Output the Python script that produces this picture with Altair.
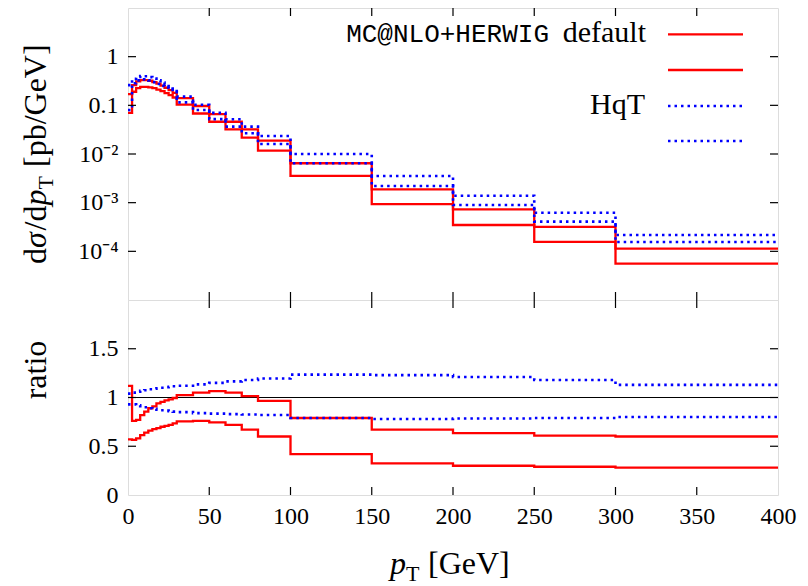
import altair as alt
import pandas as pd

# ---------------- data ----------------
pt_edges = [0, 2.5, 5, 7.5, 10, 12.5, 15, 17.5, 20, 22.5, 25, 27.5,
            30, 40, 50, 60, 70, 80, 100, 150, 200, 250, 300, 400]

mc_upper = [0.17, 0.26, 0.31, 0.33, 0.33, 0.32, 0.30, 0.28, 0.255, 0.23, 0.205, 0.18,
            0.14, 0.097, 0.066, 0.046, 0.0322, 0.0188, 0.00645, 1.88e-3, 7.3e-4, 3.17e-4, 1.14e-4]
mc_lower = [0.07, 0.19, 0.225, 0.24, 0.24, 0.235, 0.225, 0.21, 0.195, 0.178, 0.162, 0.145,
            0.103, 0.068, 0.046, 0.032, 0.0217, 0.0117, 0.00354, 9.3e-4, 3.48e-4, 1.56e-4, 5.6e-5]
hqt_upper = [0.26, 0.35, 0.385, 0.40, 0.395, 0.38, 0.355, 0.325, 0.295, 0.27, 0.245, 0.222,
             0.151, 0.103, 0.07, 0.0517, 0.0365, 0.0235, 0.0100, 3.54e-3, 1.39e-3, 6.2e-4, 2.17e-4]
hqt_lower = [0.08, 0.285, 0.325, 0.342, 0.34, 0.325, 0.30, 0.275, 0.25, 0.23, 0.208, 0.188,
             0.115, 0.08, 0.052, 0.0365, 0.0267, 0.0161, 0.00645, 2.2e-3, 8.97e-4, 4.07e-4, 1.56e-4]

ratio_mc_upper = [1.12, 0.76, 0.77, 0.82, 0.855, 0.89, 0.91, 0.94, 0.955, 0.97, 0.98, 0.995,
                  1.025, 1.05, 1.065, 1.05, 1.015, 0.965, 0.79, 0.67, 0.635, 0.61, 0.60]
ratio_mc_lower = [0.57, 0.565, 0.58, 0.615, 0.64, 0.66, 0.675, 0.685, 0.70, 0.71, 0.72, 0.735,
                  0.755, 0.76, 0.745, 0.72, 0.67, 0.60, 0.42, 0.325, 0.30, 0.29, 0.28]
ratio_hqt_upper = [1.04, 1.05, 1.06, 1.07, 1.075, 1.085, 1.09, 1.095, 1.10, 1.105, 1.11, 1.115,
                   1.12, 1.135, 1.15, 1.165, 1.18, 1.195, 1.235, 1.23, 1.21, 1.18, 1.13]
ratio_hqt_lower = [0.93, 0.93, 0.92, 0.91, 0.90, 0.89, 0.885, 0.875, 0.87, 0.865, 0.86, 0.855,
                   0.85, 0.84, 0.835, 0.83, 0.825, 0.82, 0.79, 0.78, 0.785, 0.79, 0.80]

x_tick_values = [0, 50, 100, 150, 200, 250, 300, 350, 400]
x_inner_ticks = [50, 100, 150, 200, 250, 300, 350]
y_top_ticks = [1e-4, 1e-3, 1e-2, 0.1, 1]
y_bot_ticks = [0, 0.5, 1, 1.5]
y_bot_inner = [0.5, 1, 1.5]

legend_mc = "MC@NLO+HERWIG"
legend_default = "default"
legend_hqt = "HqT"


def steps(values, name):
    rows = [{"pT": e, "v": v, "series": name} for e, v in zip(pt_edges[:-1], values)]
    rows.append({"pT": pt_edges[-1], "v": values[-1], "series": name})
    return rows


top_df = pd.DataFrame(steps(mc_upper, "mc_up") + steps(mc_lower, "mc_lo")
                      + steps(hqt_upper, "hqt_up") + steps(hqt_lower, "hqt_lo"))
bot_df = pd.DataFrame(steps(ratio_mc_upper, "mc_up") + steps(ratio_mc_lower, "mc_lo")
                      + steps(ratio_hqt_upper, "hqt_up") + steps(ratio_hqt_lower, "hqt_lo"))

W, H1, H2 = 650, 292, 195
SERIF = "Liberation Serif"
MONO = "Liberation Mono"
RED = "#ff0000"
BLUE = "#0000ff"
TL = 8  # tick length

xscale = alt.Scale(domain=[0, 400], nice=False, zero=False)
y1scale = alt.Scale(type="log", domain=[1e-5, 10], nice=False)
y2scale = alt.Scale(domain=[0, 2], nice=False, zero=False)

y1axis = alt.Axis(values=y_top_ticks, ticks=False, domain=False, grid=False, title=None,
                  labelFont=SERIF, labelFontSize=24, labelPadding=10, labelColor="black",
                  labelExpr="datum.value > 0.5 ? '1' : datum.value > 0.05 ? '0.1' : "
                            "datum.value > 0.005 ? '10⁻²' : datum.value > 0.0005 ? '10⁻³' : '10⁻⁴'")
y2axis = alt.Axis(values=y_bot_ticks, ticks=False, domain=False, grid=False, title=None,
                  labelFont=SERIF, labelFontSize=24, labelPadding=10, labelColor="black",
                  format="~g")
x2axis = alt.Axis(values=x_tick_values, ticks=False, domain=False, grid=False, title=None,
                  labelFont=SERIF, labelFontSize=24, labelPadding=9, labelColor="black",
                  format="d", labelFlush=False)

dummy = pd.DataFrame({"a": [0]})


def panel(df, yscale, yaxis, xaxis, H, yticks):
    X = alt.X("pT:Q", scale=xscale, axis=xaxis)
    Y = alt.Y("v:Q", scale=yscale, axis=yaxis)
    red = alt.Chart(df).transform_filter("indexof(datum.series, 'mc') == 0").mark_line(
        interpolate="step-after", color=RED, strokeWidth=2.3).encode(x=X, y=Y, detail="series:N")
    blue = alt.Chart(df).transform_filter("indexof(datum.series, 'hqt') == 0").mark_line(
        interpolate="step-after", color=BLUE, strokeWidth=2.6, strokeDash=[2.5, 4],
        strokeCap="butt").encode(x=X, y=Y, detail="series:N")
    xt = pd.DataFrame({"pT": x_inner_ticks})
    yt = pd.DataFrame({"v": yticks})
    tx_top = alt.Chart(xt).mark_rule(color="black", strokeWidth=1.2).encode(
        x=X, y=alt.value(0), y2=alt.value(TL))
    tx_bot = alt.Chart(xt).mark_rule(color="black", strokeWidth=1.2).encode(
        x=X, y=alt.value(H - TL), y2=alt.value(H))
    ty_l = alt.Chart(yt).mark_rule(color="black", strokeWidth=1.2).encode(
        y=Y, x=alt.value(0), x2=alt.value(TL))
    ty_r = alt.Chart(yt).mark_rule(color="black", strokeWidth=1.2).encode(
        y=Y, x=alt.value(W - TL), x2=alt.value(W))
    return [red, blue, tx_top, tx_bot, ty_l, ty_r]


def txt(s, x, y, size, font=SERIF, style="normal", align="left", angle=0, dx=0, dy=0):
    kw = dict(text=s, font=font, fontSize=size, fontStyle=style, align=align,
              baseline="alphabetic", color="black", dx=dx, dy=dy)
    if angle:
        kw["angle"] = angle
    return alt.Chart(dummy).mark_text(**kw).encode(x=alt.value(x), y=alt.value(y))


def leg_line(x1, x2, y, color, dash=None):
    kw = dict(color=color, strokeWidth=2.3 if dash is None else 2.6)
    if dash is not None:
        kw["strokeDash"] = dash
        kw["strokeCap"] = "butt"
    return alt.Chart(dummy).mark_rule(**kw).encode(
        x=alt.value(x1), x2=alt.value(x2), y=alt.value(y))


# ---------- top panel ----------
top_layers = panel(top_df, y1scale, y1axis, None, H1, y_top_ticks)

TX = -82          # baseline x of rotated y titles (plot coords)
TS = 32           # title font size
ty0 = 256         # start (bottom) of rotated top title (plot coords)
top_title = [
    txt("d", TX, ty0, TS, angle=270, dx=0),
    txt("σ", TX, ty0, TS, style="italic", angle=270, dx=16),
    txt("/d", TX, ty0, TS, angle=270, dx=33.5),
    txt("p", TX, ty0, TS, style="italic", angle=270, dx=58.4),
    txt("T", TX, ty0, 22, angle=270, dx=74.4, dy=7),
    txt("[pb/GeV]", TX, ty0, TS, angle=270, dx=97),
]

LX1, LX2 = 540, 615
legend = [
    txt(legend_mc, 421, 33.7, 26, font=MONO, align="right"),
    txt(legend_default, 518, 33.7, 30, align="right"),
    leg_line(LX1, LX2, 26.3, RED),
    leg_line(LX1, LX2, 62, RED),
    txt(legend_hqt, 517, 105.5, 30, align="right"),
    leg_line(LX1, LX2, 98, BLUE, [2.5, 4]),
    leg_line(LX1, LX2, 133, BLUE, [2.5, 4]),
]

top = alt.layer(*top_layers, *top_title, *legend).properties(width=W, height=H1)

# ---------- bottom panel ----------
bot_layers = panel(bot_df, y2scale, y2axis, x2axis, H2, y_bot_inner)
one = alt.Chart(pd.DataFrame({"v": [1.0]})).mark_rule(color="black", strokeWidth=1).encode(
    y=alt.Y("v:Q", scale=y2scale, axis=y2axis))

bx0 = 262
xtitle = [
    txt("p", bx0, 274, TS, style="italic"),
    txt("T", bx0 + 16, 274, 22, dy=7),
    txt("[GeV]", bx0 + 38, 274, TS),
]
rtitle = [txt("ratio", TX, 70, TS, align="center", angle=270)]

bottom = alt.layer(one, *bot_layers, *xtitle, *rtitle).properties(width=W, height=H2)

chart = alt.vconcat(top, bottom, spacing=0, bounds="flush").properties(
    padding={"left": 19, "top": 6, "right": 5, "bottom": 5}
).configure_view(stroke="black", strokeWidth=1.5).configure(background="white")

chart.save("out.html", embed_options={"renderer": "svg", "actions": False})
